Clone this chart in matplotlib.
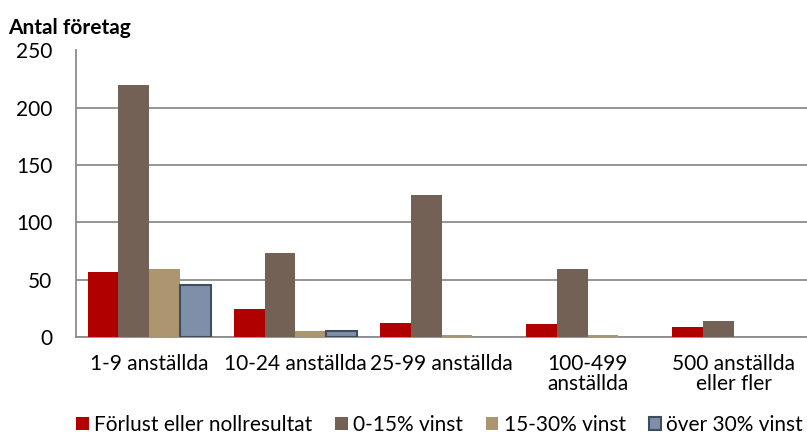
import numpy as np
import matplotlib.pyplot as plt

plt.rcParams['font.family'] = ['Lato', 'DejaVu Sans']

categories = ["1-9 anställda", "10-24 anställda", "25-99 anställda",
              "100-499\nanställda", "500 anställda\neller fler"]
series_names = ["Förlust eller nollresultat", "0-15% vinst",
                "15-30% vinst", "över 30% vinst"]
forlust = [57, 24, 12, 11, 9]
vinst_0_15 = [220, 73, 124, 59, 14]
vinst_15_30 = [59, 5, 2, 2, 0]
vinst_over_30 = [45, 5, 0, 0, 0]
yticks = [0, 50, 100, 150, 200, 250]

values = [forlust, vinst_0_15, vinst_15_30, vinst_over_30]
colors = ["#B00000", "#736155", "#AD9570", "#7F8FA9"]
edges = ["#B00000", "#736155", "#AD9570", "#3F4D60"]
lws = [0, 0, 0, 1.5]

fs = 15

fig = plt.figure(figsize=(8.07, 4.41), dpi=100)
ax = fig.add_axes([76 / 807, 1 - 337 / 441, 731 / 807, 286.5 / 441])

x = np.arange(len(categories))
w = 0.21
for i, (vals, c, ec, lw) in enumerate(zip(values, colors, edges, lws)):
    widths = [lw if v > 0 else 0 for v in vals]
    ax.bar(x + (i - 1.5) * w, vals, width=w, color=c, edgecolor=ec,
           linewidth=widths, label=series_names[i], zorder=3)

ax.set_xlim(-0.5, len(categories) - 0.5)
ax.set_ylim(0, 250)
ax.set_yticks(yticks)
ax.set_xticks(x)
ax.set_xticklabels(categories, fontsize=fs, linespacing=1.05)
ax.tick_params(axis='y', labelsize=fs, length=0, pad=17)
ax.tick_params(axis='x', length=0, pad=12)
ax.grid(axis='y', color='#8C8C8C', linewidth=1.3, zorder=0)
for s in ['top', 'right']:
    ax.spines[s].set_visible(False)
for s in ['left', 'bottom']:
    ax.spines[s].set_color('#8C8C8C')
    ax.spines[s].set_linewidth(1.3)

fig.text(8 / 807, 1 - 28 / 441, "Antal företag", fontsize=fs,
         fontweight='bold', va='center', ha='left')

fig.legend(loc='center', bbox_to_anchor=(0.545, 1 - 425 / 441), ncol=4,
           frameon=False, fontsize=fs, handlelength=0.6, handleheight=0.6,
           handletextpad=0.25, columnspacing=1.1)

fig.savefig("out.png", dpi=100)
